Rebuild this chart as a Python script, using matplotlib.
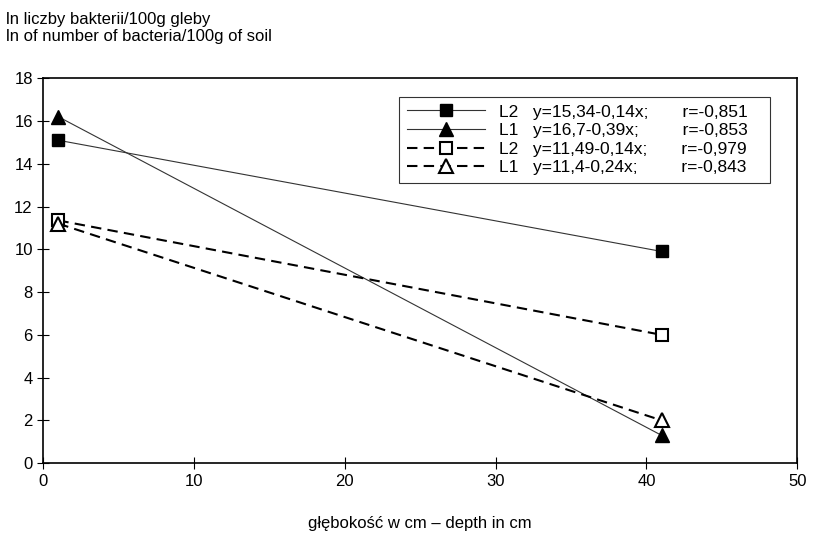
import matplotlib.pyplot as plt

plt.rcParams["font.family"] = ["Liberation Sans", "DejaVu Sans"]

depth = [1, 41]
l2_filled = [15.1, 9.9]
l1_filled = [16.2, 1.3]
l2_open = [11.35, 6.0]
l1_open = [11.2, 2.0]

labels = [
    "L2   y=15,34-0,14x;       r=-0,851   ",
    "L1   y=16,7-0,39x;         r=-0,853   ",
    "L2   y=11,49-0,14x;       r=-0,979   ",
    "L1   y=11,4-0,24x;         r=-0,843   ",
]

fig = plt.figure(figsize=(8.16, 5.36), dpi=100)
ax = fig.add_axes([0.053, 0.136, 0.924, 0.718])

ax.plot(depth, l2_filled, color="#333333", linewidth=0.8, marker="s",
        markersize=9, markerfacecolor="black", markeredgecolor="black", label=labels[0])
ax.plot(depth, l1_filled, color="#333333", linewidth=0.8, marker="^",
        markersize=10, markerfacecolor="black", markeredgecolor="black", label=labels[1])
ax.plot(depth, l2_open, color="black", linewidth=1.5, linestyle=(0, (5, 3)), marker="s",
        markersize=9, markerfacecolor="white", markeredgecolor="black", markeredgewidth=1.5,
        label=labels[2])
ax.plot(depth, l1_open, color="black", linewidth=1.5, linestyle=(0, (5, 3)), marker="^",
        markersize=10, markerfacecolor="white", markeredgecolor="black", markeredgewidth=1.5,
        label=labels[3])

ax.set_xlim(0, 50)
ax.set_ylim(0, 18)
ax.set_xticks(range(0, 51, 10))
ax.set_yticks(range(0, 19, 2))
ax.tick_params(direction="inout", length=8, labelsize=12)
for s in ax.spines.values():
    s.set_linewidth(1.2)

leg = ax.legend(loc="upper right", bbox_to_anchor=(0.976, 0.975), fontsize=12.5,
                frameon=True, fancybox=False, edgecolor="black", handlelength=4.5,
                borderpad=0.45, labelspacing=0.2, handletextpad=0.8)
leg.get_frame().set_linewidth(0.8)

ax.set_xlabel("głębokość w cm – depth in cm", fontsize=12, labelpad=20)
fig.text(0.007, 0.978, "ln liczby bakterii/100g gleby", fontsize=12, va="top")
fig.text(0.007, 0.945, "ln of number of bacteria/100g of soil", fontsize=12, va="top")

fig.savefig("out.png", dpi=100)
